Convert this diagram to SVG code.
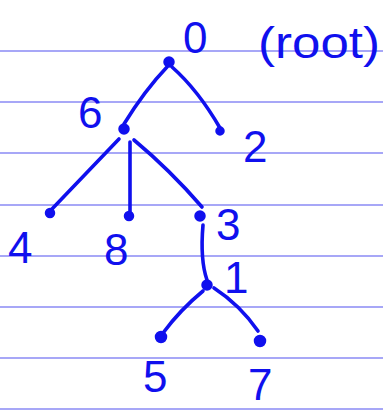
<svg xmlns="http://www.w3.org/2000/svg" width="383" height="411" viewBox="0 0 383 411">
<style>
.rule{stroke:#8a8af5;stroke-width:1.3}
.e{fill:none;stroke:#1010ee;stroke-width:3.6;stroke-linecap:round}
.n{fill:#1010ee;stroke:#1010ee;stroke-width:2.5}
.t{font-family:"Liberation Sans",Arial,sans-serif;font-size:44px;fill:#1010ee}
</style>
<rect width="383" height="411" fill="#ffffff"/>
<g id="paper">
<line class="rule" x1="0" y1="51" x2="383" y2="51"/>
<line class="rule" x1="0" y1="102" x2="383" y2="102"/>
<line class="rule" x1="0" y1="153" x2="383" y2="153"/>
<line class="rule" x1="0" y1="205" x2="383" y2="205"/>
<line class="rule" x1="0" y1="256" x2="383" y2="256"/>
<line class="rule" x1="0" y1="307" x2="383" y2="307"/>
<line class="rule" x1="0" y1="358" x2="383" y2="358"/>
<line class="rule" x1="0" y1="409" x2="383" y2="409"/>
</g>
<g id="connectors">
<path class="e" d="M167,67 Q145,90 124,124"/>
<path class="e" d="M172,67 Q198,90 220,128"/>
<path class="e" d="M119,139 L52,209"/>
<path class="e" d="M130,142 L130,213"/>
<path class="e" d="M134,140 Q170,170 202,207"/>
<path class="e" d="M203,225 Q200,260 207,280"/>
<path class="e" d="M203,291 Q180,310 163,333"/>
<path class="e" d="M214,288 Q240,305 258,331"/>
</g>
<g id="n0"><circle class="n" cx="169" cy="62" r="4.5"/><text class="t" x="183" y="53" font-size="38">0</text></g>
<text class="t" x="258" y="58" textLength="122" lengthAdjust="spacingAndGlyphs" font-size="46">(root)</text>
<g id="n6"><circle class="n" cx="124" cy="129" r="4.5"/><text class="t" x="78" y="128">6</text></g>
<g id="n2"><circle class="n" cx="220" cy="131" r="3.5" fill="#fff"/><text class="t" x="243" y="162">2</text></g>
<g id="n4"><circle class="n" cx="50" cy="213" r="4"/><text class="t" x="8" y="263">4</text></g>
<g id="n8"><circle class="n" cx="129" cy="216" r="4"/><text class="t" x="104" y="265">8</text></g>
<g id="n3"><circle class="n" cx="200" cy="216" r="4.5"/><text class="t" x="216" y="240">3</text></g>
<g id="n1"><circle class="n" cx="207" cy="285" r="4.5"/><text class="t" x="224" y="293" font-size="34">1</text></g>
<g id="n5"><circle class="n" cx="161" cy="337" r="5"/><text class="t" x="143" y="392">5</text></g>
<g id="n7"><circle class="n" cx="260" cy="341" r="5"/><text class="t" x="248" y="400">7</text></g>
</svg>
